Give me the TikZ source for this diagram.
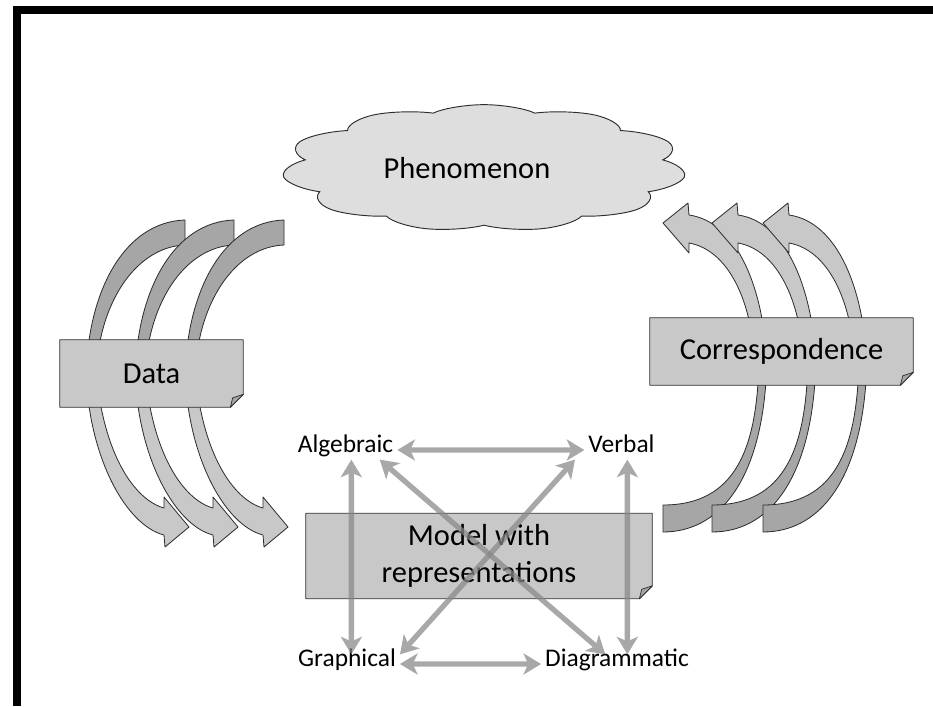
\documentclass[tikz,border=0pt]{standalone}
\usepackage{fontspec}
\setmainfont{Carlito}
\usepackage{xcolor}
\usepackage{tikz}
\usetikzlibrary{arrows.meta,shapes.symbols,calc}
\definecolor{boxgray}{RGB}{200,200,200}
\definecolor{foldgray}{RGB}{165,165,165}
\definecolor{cloudgray}{RGB}{222,222,222}
\definecolor{bandback}{RGB}{166,166,166}
\definecolor{bandfront}{RGB}{200,200,200}
\definecolor{linkgray}{RGB}{135,135,135}
\definecolor{edgegray}{RGB}{45,45,45}
\newcommand{\boxtextsize}{\fontsize{26}{31}\selectfont}
\newcommand{\reprtextsize}{\fontsize{21.7}{26}\selectfont}
\pgfdeclarelayer{background}
\pgfsetlayers{background,main}
\tikzset{
  notebox/.style={
    rectangle,
    align=center,
    font=\boxtextsize,
    inner sep=0pt
  },
  repr/.style={
    font=\reprtextsize,
    text height=0.72em,
    text depth=0.22em
  },
  boxedge/.style={
    draw=edgegray,
    line width=0.8pt,
    fill=boxgray,
    line join=round
  },
  foldedge/.style={
    draw=edgegray,
    line width=0.6pt,
    fill=foldgray,
    line join=round
  },
  backband/.style={
    draw=edgegray,
    line width=0.7pt,
    fill=bandback,
    line join=round
  },
  frontband/.style={
    draw=edgegray,
    line width=0.7pt,
    fill=bandfront,
    line join=round
  },
  link/.style={
    {Stealth[length=15pt,width=18pt,inset=4pt]}-{Stealth[length=15pt,width=18pt,inset=4pt]},
    line width=4.5pt,
    linkgray
  }
}
\newcommand{\foldedbox}[1]{%
  \begin{pgfonlayer}{background}
    \path[boxedge] (#1.north west) -- (#1.north east) -- ([yshift=11pt]#1.south east)
      -- ([xshift=-11pt]#1.south east) -- (#1.south west) -- cycle;
    \path[foldedge] ([yshift=11pt]#1.south east) -- ([xshift=-9pt,yshift=8pt]#1.south east)
      -- ([xshift=-11pt]#1.south east) -- cycle;
  \end{pgfonlayer}}

\begin{document}
\begin{tikzpicture}[x=0.03cm, y=-0.03cm]
\useasboundingbox (0,0) rectangle (933,706);
\fill[black] (13,6) rectangle (933,14);
\fill[black] (13,6) rectangle (21,706);

% stretched cloud
\begin{scope}[shift={(484,168)}, xscale=3.3]
  \node[cloud, cloud puffs=11, cloud puff arc=115, aspect=1, transform shape,
    draw=edgegray, line width=0.8pt, fill=cloudgray,
    minimum width=3.68cm, minimum height=3.8cm] (phen) at (0,0) {};
\end{scope}
\node[font=\boxtextsize] (phentext) at (467,168) {Phenomenon};

\node[notebox, minimum width=5.49cm, minimum height=2.01cm] (data) at (151.5,373.5) {Data};
\node[notebox, minimum width=7.89cm, minimum height=2.01cm] (corr) at (781.5,351.5) {Correspondence};
\node[notebox, minimum width=10.38cm, minimum height=2.55cm] (model) at (479,556) {Model with\\representations};

\node[repr] (alg) at (345.5,450) {Algebraic};
\node[repr] (verb) at (621.5,450) {Verbal};
\node[repr] (graph) at (347,664) {Graphical};
\node[repr] (diag) at (617,664) {Diagrammatic};

% curved block arrows behind the boxes
\begin{pgfonlayer}{background}
\foreach \dx in {0,49,99}{
  \begin{scope}[shift={(\dx,0)}]
    \path[backband] (185,220) .. controls (125,222) and (87,290) .. (86,380)
      -- (96,380) .. controls (97,305) and (135,247) .. (185,245) -- cycle;
    \path[frontband] (86,370) .. controls (88,455) and (125,525) .. (164,535)
      -- (165,547) -- (189,527) -- (164,497) -- (164,508)
      .. controls (135,500) and (103,455) .. (96,370) -- cycle;
  \end{scope}}
\foreach \dx in {0,49,100}{
  \begin{scope}[shift={(\dx,0)}]
    \path[backband] (663,532) .. controls (725,532) and (767,470) .. (767,350)
      -- (759,350) .. controls (759,450) and (735,505) .. (663,505) -- cycle;
    \path[frontband] (767,365) .. controls (764,290) and (738,222) .. (689,215)
      -- (688,203) -- (663,223) -- (689,253) -- (689,243)
      .. controls (728,250) and (752,300) .. (755,365) -- cycle;
  \end{scope}}
\end{pgfonlayer}

\foldedbox{data}
\foldedbox{corr}
\foldedbox{model}

\coordinate (algdown) at ([xshift=5pt]alg.south);
\coordinate (graphup) at (algdown |- graph.north);
\coordinate (verbdown) at ([xshift=5pt]verb.south);
\coordinate (diagup) at (verbdown |- diag.north);
\coordinate (algcross) at ([xshift=-15pt]alg.south east);
\coordinate (diagcross) at ([xshift=-10pt]diag.north);
\coordinate (graphcross) at (graph.north east);
\coordinate (verbcross) at ([xshift=-8pt]verb.south west);

\foreach \from/\to in {alg.east/verb.west, graph.east/diag.west, algdown/graphup,
    verbdown/diagup, algcross/diagcross, graphcross/verbcross}{
  \begin{scope}[transparency group, opacity=0.72]
    \draw[link] (\from) -- (\to);
  \end{scope}}
\end{tikzpicture}
\end{document}
